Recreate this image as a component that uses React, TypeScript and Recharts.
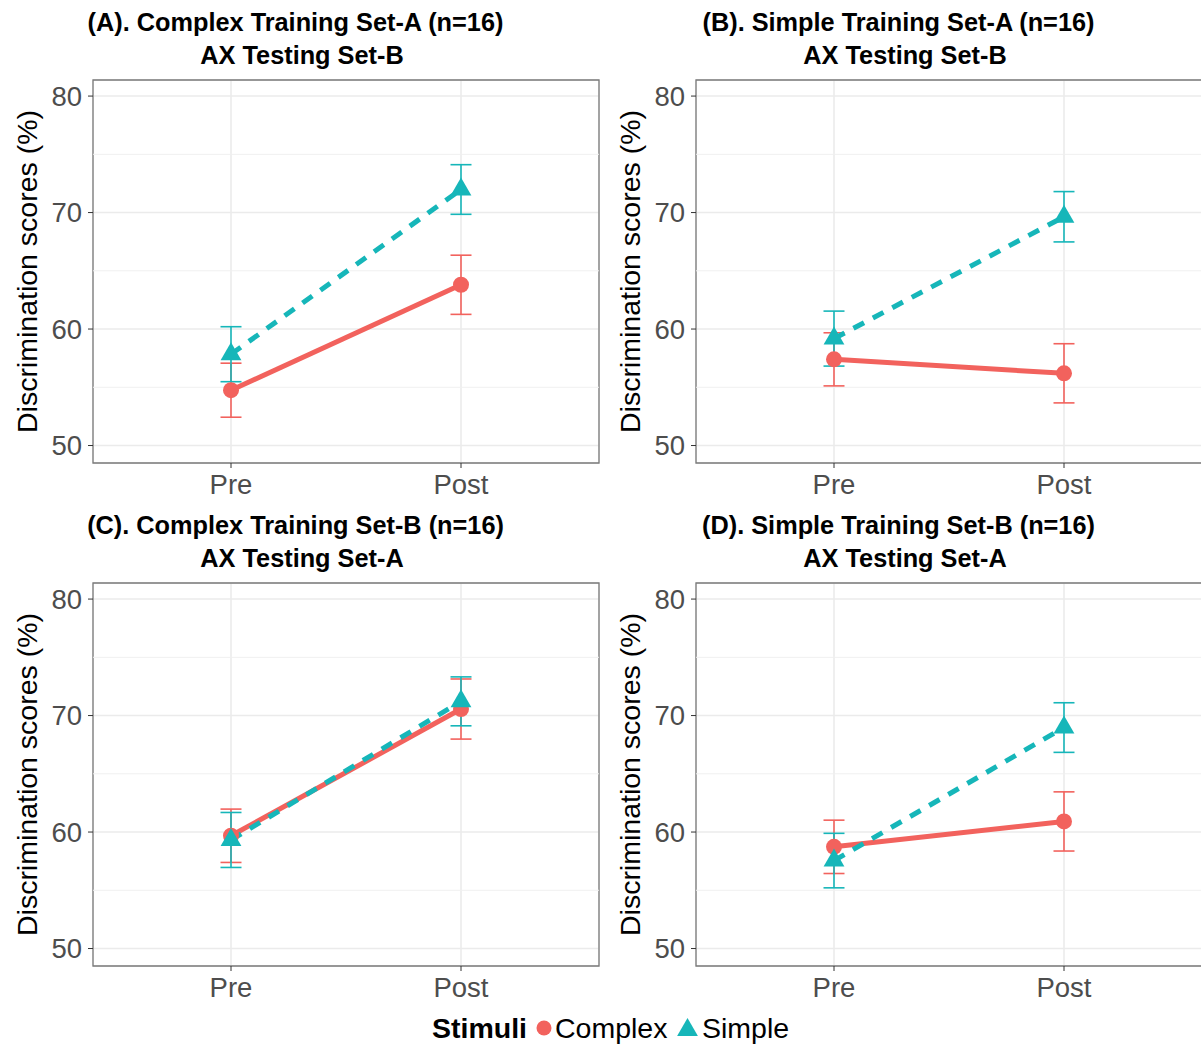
import React from 'react';
import {
  LineChart,
  Line,
  XAxis,
  YAxis,
  CartesianGrid,
  ErrorBar,
  ReferenceLine,
  ReferenceArea,
} from 'recharts';

// data (means and +/- error per panel, [Pre, Post])
const phases = ['Pre', 'Post'];
const titleLine1 = [
  '(A). Complex Training Set-A (n=16)',
  '(B). Simple Training Set-A (n=16)',
  '(C). Complex Training Set-B (n=16)',
  '(D). Simple Training Set-B (n=16)',
];
const titleLine2 = ['AX Testing Set-B', 'AX Testing Set-B', 'AX Testing Set-A', 'AX Testing Set-A'];
const complexMeans = [
  [54.75, 63.8],
  [57.4, 56.2],
  [59.68, 70.56],
  [58.73, 60.91],
];
const complexErrs = [
  [2.32, 2.54],
  [2.28, 2.54],
  [2.29, 2.58],
  [2.29, 2.54],
];
const simpleMeans = [
  [57.84, 71.98],
  [59.18, 69.64],
  [59.32, 71.22],
  [57.55, 68.97],
];
const simpleErrs = [
  [2.36, 2.13],
  [2.36, 2.16],
  [2.36, 2.1],
  [2.34, 2.13],
];
const xTicks = [1, 2];
const xDomain = [0.4, 2.6];
const yTicks = [50, 60, 70, 80];
const minorTicks = [55, 65, 75];
const yDomain = [48.5, 81.38];

const RED = '#F2625D';
const TEAL = '#16B6B9';
const FONT = '"Liberation Sans", Arial, Helvetica, sans-serif';

const panelPos = [
  { left: 0, top: 0 },
  { left: 603, top: 0 },
  { left: 0, top: 503 },
  { left: 603, top: 503 },
];

const trianglePath = (cx: number, cy: number) =>
  `M${cx},${cy - 12}L${cx + 10.4},${cy + 6}L${cx - 10.4},${cy + 6}Z`;

const YLabel = (props: any) => {
  const vb = props.viewBox || { x: 0, y: 80, height: 383 };
  const x = vb.x + 37;
  const y = vb.y + vb.height / 2;
  return (
    <text
      x={x}
      y={y}
      transform={`rotate(-90, ${x}, ${y})`}
      textAnchor="middle"
      fill="#000"
      fontSize={28.5}
    >
      Discrimination scores (%)
    </text>
  );
};

function Panel({ idx }: { idx: number }) {
  const data = phases.map((p, i) => ({
    x: i + 1,
    complex: complexMeans[idx][i],
    complexErr: complexErrs[idx][i],
    simple: simpleMeans[idx][i],
    simpleErr: simpleErrs[idx][i],
  }));
  const { left, top } = panelPos[idx];
  return (
    <div style={{ position: 'absolute', left, top }}>
      <LineChart width={600} height={503} data={data} margin={{ top: 80, right: 1, bottom: 0, left: 0 }}>
        <CartesianGrid stroke="#EBEBEB" strokeWidth={1.6} />
        {minorTicks.map((v) => (
          <ReferenceLine key={v} y={v} stroke="#F0F0F0" strokeWidth={1} />
        ))}
        <XAxis
          type="number"
          dataKey="x"
          domain={xDomain}
          ticks={xTicks}
          allowDataOverflow
          tickFormatter={(v: number) => phases[v - 1]}
          height={40}
          axisLine={false}
          tickLine={{ stroke: '#333' }}
          tickSize={5}
          tickMargin={6}
          tick={{ fill: '#4D4D4D', fontSize: 27.5 }}
        />
        <YAxis
          type="number"
          domain={yDomain}
          ticks={yTicks}
          allowDataOverflow
          width={93}
          axisLine={false}
          tickLine={{ stroke: '#333' }}
          tickSize={5}
          tickMargin={6}
          tick={{ fill: '#4D4D4D', fontSize: 27.5 }}
          label={YLabel}
        />
        <ReferenceArea
          x1={xDomain[0]}
          x2={xDomain[1]}
          y1={yDomain[0]}
          y2={yDomain[1]}
          fill="none"
          stroke="#7A7A7A"
          strokeWidth={1.3}
        />
        <Line
          dataKey="complex"
          stroke={RED}
          strokeWidth={5}
          isAnimationActive={false}
          activeDot={false}
          dot={(p: any) => <circle key={`c${p.index}`} cx={p.cx} cy={p.cy} r={8} fill={RED} />}
        >
          <ErrorBar dataKey="complexErr" direction="y" width={10.5} stroke={RED} strokeWidth={1.6} isAnimationActive={false} />
        </Line>
        <Line
          dataKey="simple"
          stroke={TEAL}
          strokeWidth={5}
          strokeDasharray="12 10"
          isAnimationActive={false}
          activeDot={false}
          dot={(p: any) => <path key={`s${p.index}`} d={trianglePath(p.cx, p.cy)} fill={TEAL} />}
        >
          <ErrorBar dataKey="simpleErr" direction="y" width={10.5} stroke={TEAL} strokeWidth={1.6} isAnimationActive={false} />
        </Line>
      </LineChart>
    </div>
  );
}

export default function App() {
  return (
    <div
      style={{
        position: 'absolute',
        left: 0,
        top: 0,
        width: 1201,
        height: 1046,
        overflow: 'hidden',
        background: '#fff',
        fontFamily: FONT,
      }}
    >
      {[0, 1, 2, 3].map((i) => (
        <Panel key={i} idx={i} />
      ))}
      <svg width={1201} height={1046} style={{ position: 'absolute', left: 0, top: 0, pointerEvents: 'none' }}>
        {panelPos.map((pos, i) => (
          <g key={i} fontWeight="bold" fontSize={25.3} fill="#000" textAnchor="middle">
            <text x={pos.left + 295.5} y={pos.top + 31}>
              {titleLine1[i]}
            </text>
            <text x={pos.left + 302} y={pos.top + 63.5}>
              {titleLine2[i]}
            </text>
          </g>
        ))}
        <g fontSize={28.5} fill="#000">
          <text x={432} y={1038} fontWeight="bold">
            Stimuli
          </text>
          <circle cx={544} cy={1028} r={7.5} fill={RED} />
          <text x={555} y={1038}>
            Complex
          </text>
          <path d={trianglePath(687.5, 1030)} fill={TEAL} />
          <text x={702} y={1038}>
            Simple
          </text>
        </g>
      </svg>
    </div>
  );
}
